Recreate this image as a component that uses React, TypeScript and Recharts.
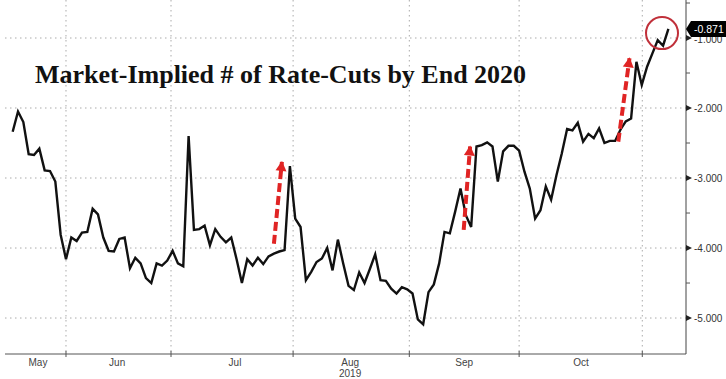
import { CartesianGrid, Line, LineChart, ReferenceDot, ReferenceLine, XAxis, YAxis } from "recharts";

// trading-day readings, split by month
const may = [-2.34, -2.05, -2.2, -2.66, -2.67, -2.58, -2.89, -2.9, -3.05, -3.81];
const jun = [
  -4.16, -3.85, -3.9, -3.78, -3.77, -3.44, -3.52, -3.85, -4.04, -4.05, -3.87, -3.85, -4.29, -4.14, -4.22, -4.43,
  -4.5, -4.22, -4.25, -4.18,
];
const jul = [
  -4.04, -4.22, -4.26, -2.4, -3.74, -3.73, -3.68, -3.96, -3.73, -3.84, -3.92, -3.85, -4.16, -4.5, -4.16, -4.25,
  -4.14, -4.23, -4.12, -4.08, -4.05, -4.03, -2.83,
];
const aug = [
  -3.58, -3.7, -4.46, -4.34, -4.2, -4.15, -4.0, -4.32, -3.88, -4.22, -4.54, -4.6, -4.35, -4.5, -4.3, -4.09, -4.46,
  -4.47, -4.58, -4.65, -4.56, -4.59,
];
const sep = [
  -4.65, -5.02, -5.09, -4.63, -4.52, -4.22, -3.77, -3.79, -3.48, -3.15, -3.53, -3.7, -2.55, -2.53, -2.49, -2.55,
  -3.05, -2.62, -2.54, -2.54,
];
const oct = [
  -2.61, -2.91, -3.15, -3.58, -3.46, -3.12, -3.31, -2.96, -2.65, -2.3, -2.32, -2.21, -2.48, -2.37, -2.43, -2.29,
  -2.5, -2.47, -2.47, -2.31, -2.19, -2.15, -1.34,
];
const nov = [-1.67, -1.41, -1.22, -1.03, -1.11, -0.871];

const implied = [...may, ...jun, ...jul, ...aug, ...sep, ...oct, ...nov];
const data = implied.map((v, i) => ({ i, v }));
const lastValue = implied[implied.length - 1];

// month boundaries and label centres, in trading-day index units
const monthEdges = [10.0, 29.7, 52.6, 74.4, 95.0, 118.1];
const monthLabels = [
  { pos: 4.75, label: "May", sub: "" },
  { pos: 19.6, label: "Jun", sub: "" },
  { pos: 41.7, label: "Jul", sub: "" },
  { pos: 63.3, label: "Aug", sub: "2019" },
  { pos: 84.7, label: "Sep", sub: "" },
  { pos: 106.6, label: "Oct", sub: "" },
];
const yMajor = [-5, -4, -3, -2, -1];
const yMinor = [-4.5, -3.5, -2.5, -1.5, -0.5];

// annotation arrows: tail -> head, tilt in degrees
const arrows = [
  { from: { x: 49.0, y: -3.94 }, to: { x: 50.5, y: -2.77 }, tilt: 5.6 },
  { from: { x: 84.6, y: -3.74 }, to: { x: 85.8, y: -2.55 }, tilt: 4.4 },
  { from: { x: 113.6, y: -2.48 }, to: { x: 115.7, y: -1.29 }, tilt: 7.7 },
];
const circleAt = { x: 121.8, y: -0.93 };

const RED = "#e02424";
const AXIS = "#555";
const FONT = "Liberation Sans, Arial, sans-serif";

function YTick(props: any) {
  const { x, y, payload } = props;
  const v = payload.value;
  if (v === lastValue) {
    const cy = y;
    return (
      <g>
        <path
          d={`M${x},${cy} L${x + 5},${cy - 8} L${x + 40},${cy - 8} L${x + 40},${cy + 8} L${x + 5},${cy + 8} Z`}
          fill="#000"
        />
        <text x={x + 8} y={cy} dy="0.35em" fill="#fff" fontSize={10.5} fontFamily={FONT}>
          {v.toFixed(3)}
        </text>
      </g>
    );
  }
  if (Number.isInteger(v)) {
    return (
      <g>
        <path d={`M${x},${y - 3} L${x + 6},${y} L${x},${y + 3} Z`} fill="#222" />
        <text x={x + 8} y={y} dy={v === -1 ? "0.5em" : "0.35em"} fill="#333" fontSize={10} fontFamily={FONT}>
          {v.toFixed(3)}
        </text>
      </g>
    );
  }
  return <line x1={x} x2={x + 4} y1={y} y2={y} stroke={AXIS} />;
}

function XTick(props: any) {
  const { x, y, payload } = props;
  const m = monthLabels.find((l) => l.pos === payload.value);
  if (m) {
    return (
      <g fontFamily={FONT} fontSize={10} fill="#444">
        <text x={x} y={y + 12} textAnchor="middle">
          {m.label}
        </text>
        {m.sub && (
          <text x={x} y={y + 23} textAnchor="middle">
            {m.sub}
          </text>
        )}
      </g>
    );
  }
  return <line x1={x} x2={x} y1={y - 3} y2={y + 3} stroke={AXIS} />;
}

function ArrowHead(tilt: number) {
  return (props: any) => {
    const { cx, cy } = props;
    return (
      <polygon
        points={`${cx},${cy - 1} ${cx - 5.5},${cy + 9} ${cx + 5.5},${cy + 9}`}
        fill={RED}
        transform={`rotate(${tilt} ${cx} ${cy})`}
      />
    );
  };
}

export default function App() {
  return (
    <div style={{ position: "absolute", left: 0, top: 0, width: 726, height: 379, background: "#fff" }}>
      <LineChart width={726} height={379} data={data} margin={{ top: 0, right: 0, bottom: 0, left: 5 }}>
        <CartesianGrid
          horizontalValues={yMajor}
          verticalValues={monthEdges}
          stroke="#aaa"
          strokeDasharray="1.5 3.5"
        />
        <XAxis
          type="number"
          dataKey="i"
          domain={[-1.44, 126.3]}
          allowDataOverflow
          ticks={[...monthEdges, ...monthLabels.map((m) => m.pos)]}
          interval={0}
          tickSize={0}
          tickMargin={0}
          tickLine={false}
          tick={<XTick />}
          axisLine={{ stroke: AXIS }}
          height={25}
        />
        <YAxis
          orientation="right"
          type="number"
          domain={[-5.514, -0.457]}
          allowDataOverflow
          ticks={[...yMajor, ...yMinor, lastValue]}
          interval={0}
          tickSize={0}
          tickMargin={0}
          tickLine={false}
          tick={<YTick />}
          axisLine={{ stroke: "#444" }}
          width={40}
        />
        <Line type="linear" dataKey="v" stroke="#111" strokeWidth={2.4} dot={false} isAnimationActive={false} />
        {arrows.map((a, k) => (
          <ReferenceLine
            key={`l${k}`}
            segment={[a.from, a.to]}
            stroke={RED}
            strokeWidth={4}
            strokeDasharray="9 4"
            ifOverflow="visible"
          />
        ))}
        {arrows.map((a, k) => (
          <ReferenceDot key={`h${k}`} x={a.to.x} y={a.to.y} ifOverflow="visible" shape={ArrowHead(a.tilt)} />
        ))}
        <ReferenceDot
          x={circleAt.x}
          y={circleAt.y}
          r={16}
          fill="none"
          stroke="#c0303a"
          strokeWidth={2}
          ifOverflow="visible"
        />
      </LineChart>
      <div
        style={{
          position: "absolute",
          left: 35,
          top: 62,
          fontFamily: "Liberation Serif, Times New Roman, serif",
          fontWeight: "bold",
          fontSize: 26,
          lineHeight: "26px",
          color: "#111",
          whiteSpace: "nowrap",
        }}
      >
        Market-Implied # of Rate-Cuts by End 2020
      </div>
    </div>
  );
}
